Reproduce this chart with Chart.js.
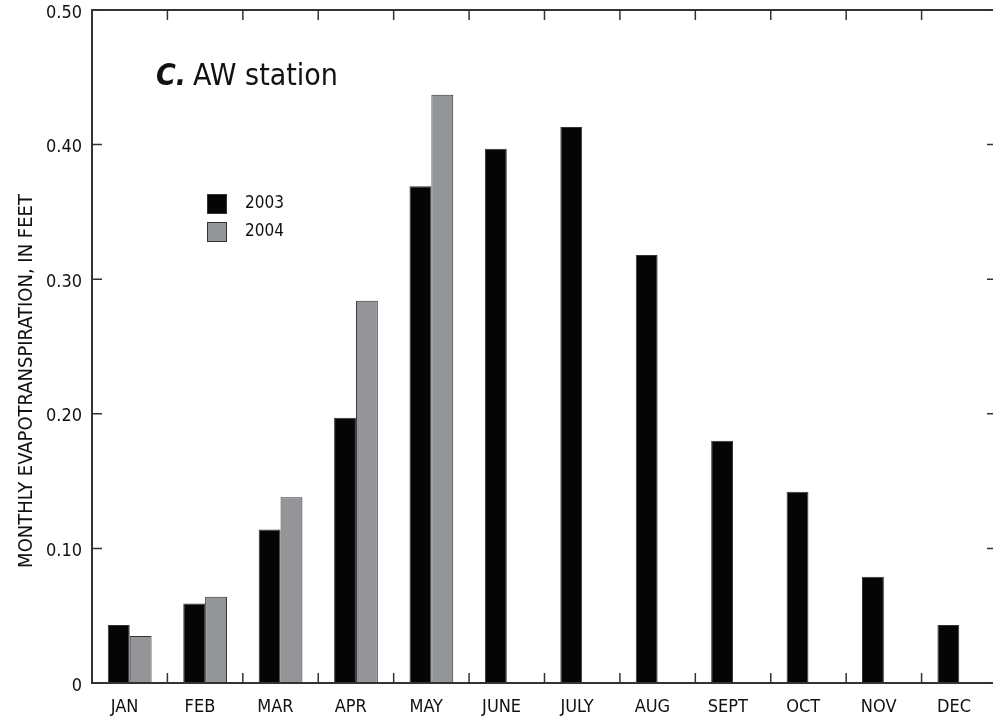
<!DOCTYPE html>
<html>
<head>
<meta charset="utf-8">
<script src="https://cdn.jsdelivr.net/npm/chart.js@4.4.1/dist/chart.umd.min.js"></script>
<style>
  html, body { margin: 0; padding: 0; background: #fff; overflow: hidden; }
  #wrap { position: relative; width: 1000px; height: 723px; }
</style>
</head>
<body>
<div id="wrap"><canvas id="c"></canvas></div>
<script>
// ---- data ----
const MONTHS = ['JAN','FEB','MAR','APR','MAY','JUNE','JULY','AUG','SEPT','OCT','NOV','DEC'];
const ET_2003 = [0.043, 0.059, 0.114, 0.197, 0.369, 0.397, 0.413, 0.318, 0.180, 0.142, 0.079, 0.043];
const ET_2004 = [0.035, 0.064, 0.138, 0.284, 0.437, null, null, null, null, null, null, null];
const SERIES_NAMES = ['2003', '2004'];
const Y_TICKS = [0, 0.10, 0.20, 0.30, 0.40, 0.50];
const Y_TITLE = 'MONTHLY EVAPOTRANSPIRATION, IN FEET';
const PANEL_LETTER = 'C.';
const PANEL_TEXT = 'AW station';

const FONT = "'Liberation Sans Narrow', 'DejaVu Sans Condensed', 'Liberation Sans', sans-serif";
const INK = '#111';

const overlay = {
  id: 'overlay',
  afterDatasetsDraw(chart) {
    const ctx = chart.ctx;
    const a = chart.chartArea;
    const xs = chart.scales.x, ys = chart.scales.y;
    ctx.save();
    // frame
    ctx.strokeStyle = '#333';
    ctx.lineWidth = 2;
    ctx.strokeRect(a.left, a.top, a.right - a.left, a.bottom - a.top);
    // inward ticks
    ctx.lineWidth = 1.5;
    ctx.beginPath();
    for (let i = 1; i < MONTHS.length; i++) {
      const px = (xs.getPixelForValue(i - 1) + xs.getPixelForValue(i)) / 2;
      ctx.moveTo(px, a.bottom); ctx.lineTo(px, a.bottom - 10);
      ctx.moveTo(px, a.top); ctx.lineTo(px, a.top + 10);
    }
    Y_TICKS.forEach(v => {
      const py = ys.getPixelForValue(v);
      ctx.moveTo(a.left, py); ctx.lineTo(a.left + 10, py);
      ctx.moveTo(a.right, py); ctx.lineTo(a.right - 10, py);
    });
    ctx.stroke();

    // y title
    ctx.fillStyle = INK;
    ctx.font = "20px " + FONT;
    ctx.textAlign = 'center';
    ctx.textBaseline = 'middle';
    ctx.save();
    ctx.translate(27, 381);
    ctx.rotate(-Math.PI / 2);
    ctx.fillText(Y_TITLE, 0, 0);
    ctx.restore();

    // panel label
    ctx.textAlign = 'left';
    ctx.textBaseline = 'alphabetic';
    ctx.font = "italic bold 30px " + FONT;
    ctx.fillText(PANEL_LETTER, 156, 85);
    ctx.font = "30px " + FONT;
    ctx.fillText(PANEL_TEXT, 193, 85);

    // legend
    ctx.font = "17px " + FONT;
    ctx.textBaseline = 'middle';
    chart.data.datasets.forEach((ds, i) => {
      const y = 194 + i * 28;
      ctx.fillStyle = ds.backgroundColor;
      ctx.fillRect(207, y, 20, 20);
      ctx.strokeStyle = '#333';
      ctx.lineWidth = 1;
      ctx.strokeRect(207.5, y + 0.5, 19, 19);
      ctx.fillStyle = INK;
      ctx.fillText(ds.label, 245, y + 10);
    });
    ctx.restore();
  }
};

new Chart(document.getElementById('c'), {
  type: 'bar',
  data: {
    labels: MONTHS,
    datasets: [
      { label: SERIES_NAMES[0], data: ET_2003, backgroundColor: '#050505', borderColor: '#333', borderWidth: 1, xAxisID: 'x', yAxisID: 'y' },
      { label: SERIES_NAMES[1], data: ET_2004, backgroundColor: '#939598', borderColor: '#333', borderWidth: 1, xAxisID: 'x', yAxisID: 'y' }
    ]
  },
  options: {
    responsive: true,
    maintainAspectRatio: false,
    devicePixelRatio: 1,
    animation: false,
    layout: { padding: { top: 10, right: 3, left: 0, bottom: 0 } },
    datasets: { bar: { barPercentage: 1.0, categoryPercentage: 0.58 } },
    plugins: { legend: { display: false }, tooltip: { enabled: false } },
    scales: {
      x: { type: 'category', display: false, offset: true },
      xl: {
        type: 'linear',
        position: 'bottom',
        offset: false,
        min: -0.431,
        max: 11.569,
        grid: { display: false, drawTicks: false, offset: false },
        border: { display: false },
        afterBuildTicks(scale) { scale.ticks = MONTHS.map((m, i) => ({ value: i })); },
        afterFit(scale) { scale.height = 40; scale.paddingLeft = 0; scale.paddingRight = 0; },
        ticks: {
          autoSkip: false,
          maxRotation: 0,
          padding: 14,
          color: INK,
          font: { family: FONT, size: 18 },
          callback: (v) => MONTHS[v]
        }
      },
      y: {
        type: 'linear',
        min: 0, max: 0.5,
        afterBuildTicks(scale) { scale.ticks = Y_TICKS.map(v => ({ value: v })); },
        afterFit(scale) { scale.width = 92; scale.paddingTop = 0; scale.paddingBottom = 0; },
        grid: { display: false, drawTicks: false },
        border: { display: false },
        ticks: {
          padding: 10,
          labelOffset: 3,
          color: INK,
          font: { family: FONT, size: 18, lineHeight: 1 },
          callback: (v) => v === 0 ? '0' : v.toFixed(2)
        }
      }
    }
  },
  plugins: [overlay]
});
</script>
</body>
</html>
